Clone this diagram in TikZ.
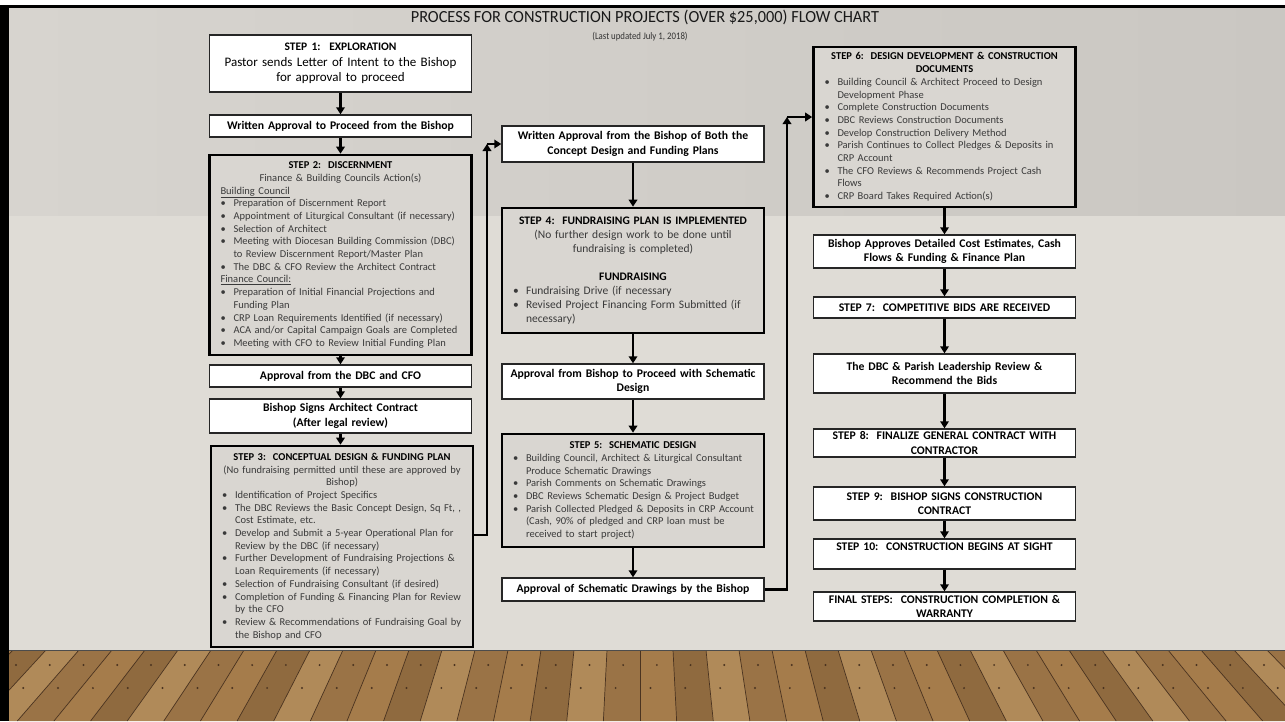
\documentclass[tikz,border=0pt]{standalone}
\usepackage{fontspec}
\setmainfont{Carlito}
\usetikzlibrary{arrows.meta}
\definecolor{wallL}{HTML}{D7D4CF}
\definecolor{wallR}{HTML}{CAC7C2}
\definecolor{walllow}{HTML}{DFDCD6}
\definecolor{gfill}{HTML}{D9D6D1}
\definecolor{btext}{HTML}{3A3A3A}
\definecolor{wood0}{HTML}{A57C4B}
\definecolor{wood1}{HTML}{8F6A3F}
\definecolor{wood2}{HTML}{B08A59}
\definecolor{wood3}{HTML}{9A7346}
\definecolor{woodline}{HTML}{4A3320}
\newcommand\nl{\hfil\break}
\newcommand\bpt[1]{\par\noindent\hangindent=13pt\hangafter=1\makebox[13pt][l]{\textbullet}#1\par}
\newcommand\hd[1]{{\centering\bfseries\color{black}#1\par}}
\newcommand\ctr[1]{{\centering #1\par}}
\begin{document}
\frenchspacing
\begin{tikzpicture}[x=1pt,y=-1pt,
  wbox/.style={draw=black!85, line width=1.4pt, fill=white, text width=258pt, align=center,
    inner xsep=2pt, inner ysep=0pt, font=\fontsize{11.7}{14.3}\selectfont\bfseries},
  gbox/.style={draw=black, line width=2.6pt, fill=gfill, text width=252pt, align=left,
    inner xsep=5pt, inner ysep=0pt, text=btext, font=\fontsize{10.5}{12.7}\selectfont},
  arr/.style={line width=2.6pt, -{Triangle[width=8.5pt,length=7pt]}},
]
\useasboundingbox (0,0) rectangle (1285,721);
% background
\fill[white] (0,0) rectangle (1285,721);
\shade[left color=wallL, right color=wallR] (9,7) rectangle (1285,216);
\fill[walllow] (9,216) rectangle (1285,650);
\begin{scope}
\clip (9,650) rectangle (1285,721);
\fill[wood0] (9,650) rectangle (1285,721);
\foreach \i in {-21,...,20}{
  \pgfmathsetmacro\xa{640+33*\i}
  \pgfmathsetmacro\xb{640+33*(\i+1)}
  \pgfmathsetmacro\xc{640+33*(\i+1)*1.11}
  \pgfmathsetmacro\xd{640+33*\i*1.11}
  \pgfmathtruncatemacro\k{mod(\i+40,4)}
  \fill[wood\k] (\xa,650) -- (\xb,650) -- (\xc,721) -- (\xd,721) -- cycle;
  \draw[woodline, line width=0.7pt] (\xa,650) -- (\xd,721);
  \fill[woodline] ({640+33*(\i+0.5)*1.022},665) circle (1.1pt);
  \fill[woodline] ({640+33*(\i+0.3)*1.056},688) circle (1.1pt);
}
\end{scope}
\draw[black!70, line width=1pt] (9,650) -- (1285,650);
\fill[black] (0,5) rectangle (1285,7.5);
\fill[black] (0,5) rectangle (9,721);

% title
\node[text=black!90] (title) at (645,17) {\scalebox{0.96}[1]{\fontsize{17}{20}\selectfont PROCESS FOR CONSTRUCTION PROJECTS (OVER \$25,000) FLOW CHART}};
\node[text=black!80] (sub) at (640,37) {\scalebox{0.88}[1]{\fontsize{10}{12}\selectfont (Last updated July 1, 2018)}};

% left column
\node[wbox, minimum height=57pt, font=\fontsize{13}{15.5}\selectfont] (s1) at (340.5,63.5)
  {{\fontsize{11.5}{14}\selectfont\bfseries STEP 1:~ EXPLORATION}\\ Pastor sends Letter of Intent to the Bishop\\ for approval to proceed};
\node[wbox, minimum height=22pt] (wa1) at (340.5,126) {Written Approval to Proceed from the Bishop};
\node[gbox, minimum height=200pt] (s2) at (340.5,255) {\leftskip=6pt
  \hd{STEP 2:~ DISCERNMENT}
  \ctr{Finance \& Building Councils Action(s)}
  \underline{Building Council}\par
  \bpt{Preparation of Discernment Report}
  \bpt{Appointment of Liturgical Consultant (if necessary)}
  \bpt{Selection of Architect}
  \bpt{Meeting with Diocesan Building Commission (DBC)\nl to Review Discernment Report/Master Plan}
  \bpt{The DBC \& CFO Review the Architect Contract}
  \underline{Finance Council:}\par
  \bpt{Preparation of Initial Financial Projections and\nl Funding Plan}
  \bpt{CRP Loan Requirements Identified (if necessary)}
  \bpt{ACA and/or Capital Campaign Goals are Completed}
  \bpt{Meeting with CFO to Review Initial Funding Plan}};
\node[wbox, minimum height=22pt] (ap1) at (340.5,376) {Approval from the DBC and CFO};
\node[wbox, minimum height=34pt] (bs) at (340.5,416) {Bishop Signs Architect Contract\\ (After legal review)};
\node[gbox, minimum height=201pt] (s3) at (342,546.5) {\leftskip=6pt
  \hd{STEP 3:~ CONCEPTUAL DESIGN \& FUNDING PLAN}
  \ctr{(No fundraising permitted until these are approved by\\ Bishop)}
  \bpt{Identification of Project Specifics}
  \bpt{The DBC Reviews the Basic Concept Design, Sq Ft, ,\nl Cost Estimate, etc.}
  \bpt{Develop and Submit a 5-year Operational Plan for\nl Review by the DBC (if necessary)}
  \bpt{Further Development of Fundraising Projections \&\nl Loan Requirements (if necessary)}
  \bpt{Selection of Fundraising Consultant (if desired)}
  \bpt{Completion of Funding \& Financing Plan for Review\nl by the CFO}
  \bpt{Review \& Recommendations of Fundraising Goal by\nl the Bishop and CFO}};

% middle column
\node[wbox, minimum height=36pt] (wa2) at (633,144) {Written Approval from the Bishop of Both the\\ Concept Design and Funding Plans};
\node[gbox, minimum height=125pt, font=\fontsize{11.5}{14}\selectfont] (s4) at (633,270.5) {\leftskip=6pt
  \hd{STEP 4:~ FUNDRAISING PLAN IS IMPLEMENTED}
  \ctr{(No further design work to be done until\\ fundraising is completed)}
  \mbox{}\par
  \hd{FUNDRAISING}
  \bpt{Fundraising Drive (if necessary}
  \bpt{Revised Project Financing Form Submitted (if\nl necessary)}};
\node[wbox, minimum height=35pt] (ap2) at (633,381.5) {Approval from Bishop to Proceed with Schematic\\ Design};
\node[gbox, minimum height=113pt] (s5) at (633,490.5) {\leftskip=6pt
  \hd{STEP 5:~ SCHEMATIC DESIGN}
  \bpt{Building Council, Architect \& Liturgical Consultant\nl Produce Schematic Drawings}
  \bpt{Parish Comments on Schematic Drawings}
  \bpt{DBC Reviews Schematic Design \& Project Budget}
  \bpt{Parish Collected Pledged \& Deposits in CRP Account\nl (Cash, 90\% of pledged and CRP loan must be\nl received to start project)}};
\node[wbox, minimum height=23pt] (ap3) at (633,589.5) {Approval of Schematic Drawings by the Bishop};

% right column
\node[gbox, minimum height=160pt] (s6) at (944.5,127) {\leftskip=6pt
  \hd{STEP 6:~ DESIGN DEVELOPMENT \& CONSTRUCTION\\ DOCUMENTS}
  \bpt{Building Council \& Architect Proceed to Design\nl Development Phase}
  \bpt{Complete Construction Documents}
  \bpt{DBC Reviews Construction Documents}
  \bpt{Develop Construction Delivery Method}
  \bpt{Parish Continues to Collect Pledges \& Deposits in\nl CRP Account}
  \bpt{The CFO Reviews \& Recommends Project Cash\nl Flows}
  \bpt{CRP Board Takes Required Action(s)}};
\node[wbox, minimum height=33pt] (ba) at (944.5,251.5) {Bishop Approves Detailed Cost Estimates, Cash\\ Flows \& Funding \& Finance Plan};
\node[wbox, minimum height=21pt] (s7) at (944.5,307.5) {STEP 7:~ COMPETITIVE BIDS ARE RECEIVED};
\node[wbox, minimum height=39pt] (dbc) at (944.5,373.5) {The DBC \& Parish Leadership Review \&\\ Recommend the Bids};
\node[wbox, minimum height=28pt] (s8) at (944.5,443) {STEP 8:~ FINALIZE GENERAL CONTRACT WITH\\ CONTRACTOR};
\node[wbox, minimum height=33pt] (s9) at (944.5,503.5) {STEP 9:~ BISHOP SIGNS CONSTRUCTION\\ CONTRACT};
\node[wbox, minimum height=30pt] (s10) at (944.5,554) {STEP 10:~ CONSTRUCTION BEGINS AT SIGHT\\ \mbox{}};
\node[wbox, minimum height=29pt] (fin) at (944.5,606.5) {FINAL STEPS:~ CONSTRUCTION COMPLETION \&\\ WARRANTY};

% connectors
\draw[arr] (s1) -- (wa1);
\draw[arr] (wa1) -- (s2);
\draw[arr] (s2) -- (ap1);
\draw[arr] (ap1) -- (bs);
\draw[arr] (bs.south) -- (bs.south |- s3.north);
\coordinate (c1) at (487,535);
\coordinate (c2) at (487,144);
\draw[arr] (s3.east |- c1) -- (c1) -- (c2);
\draw[arr] (c2) -- (wa2.west);
\draw[arr] (wa2) -- (s4);
\draw[arr] (s4) -- (ap2);
\draw[arr] (ap2) -- (s5);
\draw[arr] (s5) -- (ap3);
\coordinate (c3) at (787,589.5);
\coordinate (c4) at (787,117);
\draw[arr] (ap3.east) -- (c3) -- (c4);
\draw[arr] (c4) -- (s6.west |- c4);
\draw[arr] (s6) -- (ba);
\draw[arr] (ba) -- (s7);
\draw[arr] (s7) -- (dbc);
\draw[arr] (dbc) -- (s8);
\draw[arr] (s8) -- (s9);
\draw[arr] (s9) -- (s10);
\draw[arr] (s10) -- (fin);
\end{tikzpicture}
\end{document}
